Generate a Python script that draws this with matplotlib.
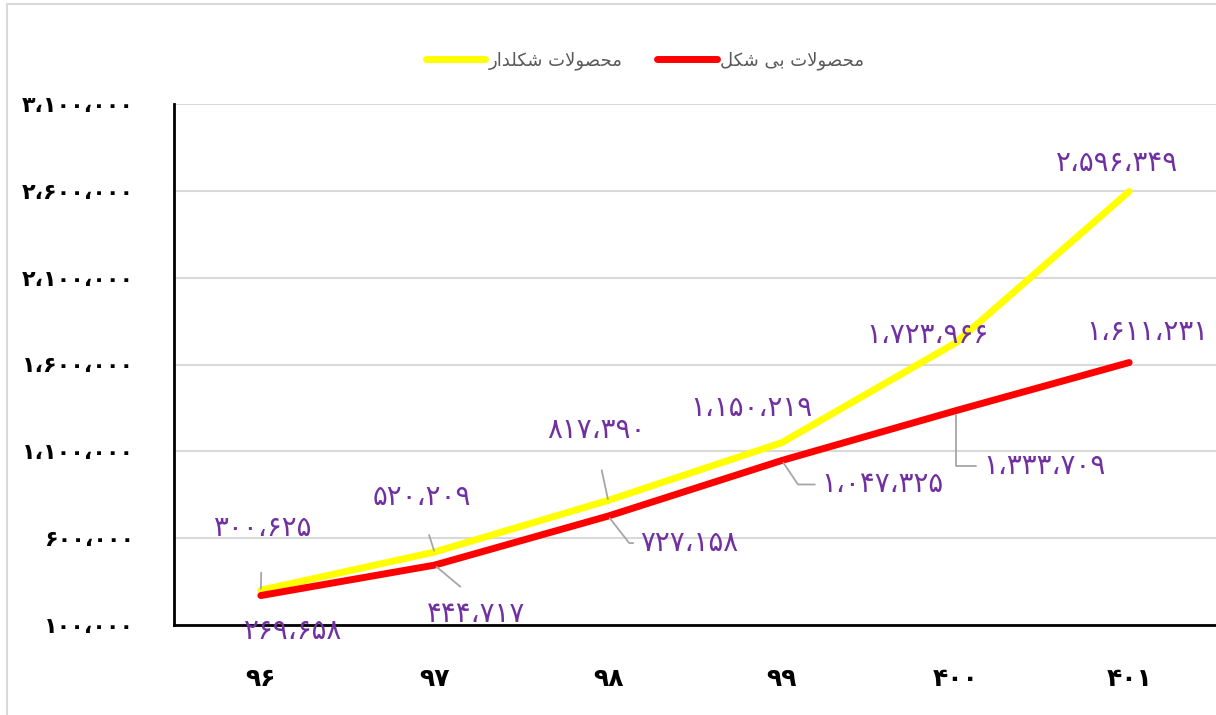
import matplotlib
matplotlib.use("Agg")
import matplotlib.pyplot as plt
from matplotlib.lines import Line2D

# ---------------- data ----------------
categories = ["۹۶", "۹۷", "۹۸", "۹۹", "۴۰۰", "۴۰۱"]
shaped_values = [300625, 520209, 817390, 1150219, 1723966, 2596349]     # محصولات شکلدار
amorphous_values = [269658, 444717, 727158, 1047325, 1333709, 1611231]  # محصولات بی شکل
series_names = ["محصولات شکلدار", "محصولات بی شکل"]
y_ticks = [100000, 600000, 1100000, 1600000, 2100000, 2600000, 3100000]

# ---------------- helpers: Persian shaping ----------------
FORMS = {
    'ا': ('\uFE8D', '\uFE8E', None, None),
    'ب': ('\uFE8F', '\uFE90', '\uFE91', '\uFE92'),
    'ت': ('\uFE95', '\uFE96', '\uFE97', '\uFE98'),
    'ح': ('\uFEA1', '\uFEA2', '\uFEA3', '\uFEA4'),
    'د': ('\uFEA9', '\uFEAA', None, None),
    'ر': ('\uFEAD', '\uFEAE', None, None),
    'ش': ('\uFEB5', '\uFEB6', '\uFEB7', '\uFEB8'),
    'ص': ('\uFEB9', '\uFEBA', '\uFEBB', '\uFEBC'),
    'ل': ('\uFEDD', '\uFEDE', '\uFEDF', '\uFEE0'),
    'م': ('\uFEE1', '\uFEE2', '\uFEE3', '\uFEE4'),
    'و': ('\uFEED', '\uFEEE', None, None),
    'ک': ('\uFB8E', '\uFB8F', '\uFB90', '\uFB91'),
    'ی': ('\uFBFC', '\uFBFD', '\uFBFE', '\uFBFF'),
}


def _dual(c):
    return c in FORMS and FORMS[c][2] is not None


def shape(s):
    out = []
    i, n = 0, len(s)
    while i < n:
        c = s[i]
        if c not in FORMS:
            out.append(c)
            i += 1
            continue
        prev = s[i - 1] if i > 0 else ''
        jp = _dual(prev)
        if c == 'ل' and i + 1 < n and s[i + 1] == 'ا':
            out.append('\uFEFC' if jp else '\uFEFB')
            i += 2
            continue
        nxt = s[i + 1] if i + 1 < n else ''
        jn = _dual(c) and nxt in FORMS
        iso, fin, ini, med = FORMS[c]
        if jp and jn:
            g = med
        elif jp:
            g = fin
        elif jn:
            g = ini
        else:
            g = iso
        out.append(g)
        i += 1
    return ''.join(reversed(out))


PDIG = str.maketrans("0123456789", "۰۱۲۳۴۵۶۷۸۹")


def fa_num(v):
    return f"{int(v):,}".replace(",", "،").translate(PDIG)


# ---------------- figure ----------------
plt.rcParams['font.family'] = ['DejaVu Sans']
W, H = 1216, 715
fig = plt.figure(figsize=(W / 100, H / 100), dpi=100)
ax = fig.add_axes([174 / W, 1 - 625 / H, 1 - 174 / W, (625 - 104) / H])

# figure frame (left and top visible)
fig.add_artist(Line2D([7 / W, 7 / W], [0, 1 - 4 / H], transform=fig.transFigure,
                      color='#D9D9D9', lw=1.5))
fig.add_artist(Line2D([7 / W, 1], [1 - 4 / H, 1 - 4 / H], transform=fig.transFigure,
                      color='#D9D9D9', lw=1.5))

x = list(range(len(categories)))
l1, = ax.plot(x, shaped_values, color='#FFFF00', lw=5, solid_capstyle='round',
              solid_joinstyle='round', zorder=3)
l2, = ax.plot(x, amorphous_values, color='#FF0000', lw=5, solid_capstyle='round',
              solid_joinstyle='round', zorder=4)

ax.set_xlim(-0.5, len(categories) - 0.5)
ax.set_ylim(y_ticks[0], y_ticks[-1])
ax.set_yticks(y_ticks)
ax.set_yticklabels([fa_num(t) for t in y_ticks], fontsize=16, fontweight='bold',
                   color='black')
ax.set_xticks(x)
ax.set_xticklabels(categories, fontsize=18, fontweight='bold', color='black')
ax.tick_params(axis='both', length=0)
ax.tick_params(axis='y', pad=29)
ax.tick_params(axis='x', pad=30)
ax.grid(axis='y', color='#D9D9D9', lw=1.5, zorder=0)
ax.set_axisbelow(True)
for s in ['top', 'right']:
    ax.spines[s].set_visible(False)
for s in ['left', 'bottom']:
    ax.spines[s].set_color('black')
    ax.spines[s].set_linewidth(2)
ax.spines['bottom'].set_zorder(5)

# ---------------- data labels ----------------
lab_color = '#7030A0'
lead = dict(arrowstyle='-', color='#A6A6A6', lw=1.3)

# offsets in pixels (dx, dy), and leader line settings
shaped_offsets = [(1, 62), (-13, 55), (-12, 70), (-30, 35), (-28, 8), (-12, 28)]
shaped_leaders = [dict(relpos=(0.5, 0), shrinkA=20, shrinkB=1),
                  dict(relpos=(0.5, 0), shrinkA=16, shrinkB=1),
                  dict(relpos=(0.5, 0), shrinkA=17, shrinkB=1),
                  None, None, None]
amorph_offsets = [(32, -35), (42, -49), (81, -27), (101, -24), (89, -55), (18, 31)]
amorph_leaders = [None,
                  dict(relpos=(0.5, 1), shrinkA=12, shrinkB=2),
                  dict(relpos=(0, 0.5), shrinkA=3, shrinkB=2,
                       connectionstyle='angle,angleA=0,angleB=-52,rad=0'),
                  dict(relpos=(0, 0.5), shrinkA=3, shrinkB=2,
                       connectionstyle='angle,angleA=0,angleB=-56,rad=0'),
                  dict(relpos=(0, 0.5), shrinkA=3, shrinkB=3,
                       connectionstyle='angle,angleA=0,angleB=90,rad=0'),
                  None]

for vals, offs, leads in [(shaped_values, shaped_offsets, shaped_leaders),
                          (amorphous_values, amorph_offsets, amorph_leaders)]:
    for i, v in enumerate(vals):
        kw = {}
        if leads[i] is not None:
            ap = dict(lead)
            ap.update(leads[i])
            kw['arrowprops'] = ap
        ax.annotate(fa_num(v), xy=(i, v), xytext=offs[i], textcoords='offset pixels',
                    ha='center', va='center', fontsize=20, color=lab_color,
                    annotation_clip=False, zorder=6, **kw)

# ---------------- legend ----------------
leg = fig.legend([l1, l2], [shape(n) for n in series_names], loc='center',
                 bbox_to_anchor=(645 / W, 1 - 61 / H), ncol=2, frameon=False,
                 fontsize=13, handlelength=3.3, handletextpad=0.2,
                 columnspacing=1.9, labelcolor='#595959')

fig.savefig('out.png', dpi=100)
